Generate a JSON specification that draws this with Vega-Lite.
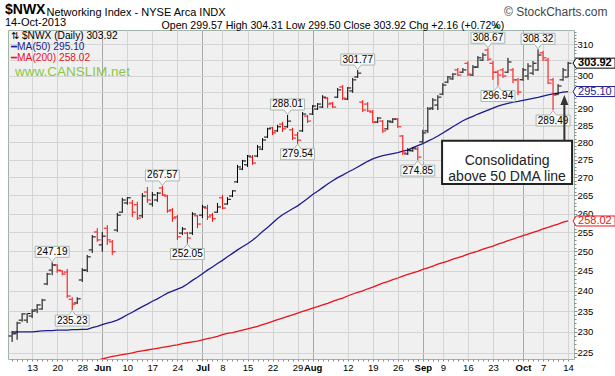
{
"$schema": "https://vega.github.io/schema/vega-lite/v6.json",
"width": 566, "height": 329, "autosize": "none",
"padding": {"left": 8, "top": 30, "right": 41, "bottom": 17},
"background": "white",
"title": {"text": "$NWX", "subtitle": "14-Oct-2013", "anchor": "start", "frame": "group", "dx": -3, "dy": 25, "offset": 2, "font": "Liberation Sans", "fontSize": 14, "fontWeight": "bold", "color": "#000", "subtitleFont": "Liberation Sans", "subtitleFontSize": 11, "subtitleColor": "#000", "subtitlePadding": 0},
"config": {"view": {"fill": "#f0f0f0", "stroke": "#a0b4aa", "strokeWidth": 1}, "axis": {"labelFont": "Liberation Sans", "titleFont": "Liberation Sans", "zindex": 0}, "text": {"font": "Liberation Sans"}},
"datasets": {
"bars": [
{"d":"2013-05-07","o":229.0,"h":230.2,"l":227.6,"c":229.5,"m50":230.0,"m200":219.7},
{"d":"2013-05-08","o":229.7,"h":232.4,"l":228.1,"c":232.1,"m50":230.0,"m200":219.9},
{"d":"2013-05-09","o":232.8,"h":234.5,"l":232.4,"c":234.3,"m50":230.0,"m200":220.1},
{"d":"2013-05-10","o":232.8,"h":234.5,"l":232.1,"c":234.4,"m50":230.0,"m200":220.3},
{"d":"2013-05-13","o":233.8,"h":235.5,"l":233.3,"c":235.0,"m50":230.0,"m200":220.5},
{"d":"2013-05-14","o":235.3,"h":236.7,"l":234.5,"c":236.5,"m50":230.1,"m200":220.7},
{"d":"2013-05-15","o":235.5,"h":238.0,"l":235.3,"c":237.7,"m50":230.2,"m200":220.9},
{"d":"2013-05-16","o":241.7,"h":244.5,"l":241.4,"c":244.2,"m50":230.3,"m200":221.1},
{"d":"2013-05-17","o":245.2,"h":247.19,"l":243.9,"c":246.5,"m50":230.3,"m200":221.3},
{"d":"2013-05-20","o":246.5,"h":246.7,"l":244.5,"c":245.2,"m50":230.4,"m200":221.5},
{"d":"2013-05-21","o":245.0,"h":245.2,"l":243.9,"c":244.2,"m50":230.4,"m200":221.7},
{"d":"2013-05-22","o":244.7,"h":245.5,"l":238.2,"c":238.7,"m50":230.4,"m200":222.0},
{"d":"2013-05-23","o":237.9,"h":238.4,"l":235.23,"c":236.7,"m50":230.5,"m200":222.2},
{"d":"2013-05-24","o":237.0,"h":238.4,"l":236.7,"c":238.0,"m50":230.5,"m200":222.4},
{"d":"2013-05-28","o":242.7,"h":245.7,"l":242.2,"c":245.2,"m50":230.6,"m200":222.6},
{"d":"2013-05-29","o":245.2,"h":249.1,"l":244.7,"c":248.6,"m50":230.6,"m200":222.8},
{"d":"2013-05-30","o":250.4,"h":254.3,"l":249.6,"c":253.8,"m50":231.0,"m200":223.0},
{"d":"2013-05-31","o":255.1,"h":256.1,"l":252.5,"c":253.0,"m50":231.3,"m200":223.3},
{"d":"2013-06-03","o":251.7,"h":255.1,"l":249.9,"c":254.0,"m50":231.7,"m200":223.6},
{"d":"2013-06-04","o":256.1,"h":256.9,"l":251.7,"c":253.0,"m50":232.1,"m200":223.9},
{"d":"2013-06-05","o":252.5,"h":253.0,"l":249.1,"c":249.9,"m50":232.4,"m200":224.2},
{"d":"2013-06-06","o":255.6,"h":260.2,"l":255.1,"c":259.6,"m50":232.8,"m200":224.4},
{"d":"2013-06-07","o":260.4,"h":264.3,"l":260.2,"c":263.7,"m50":233.4,"m200":224.6},
{"d":"2013-06-10","o":262.9,"h":264.5,"l":262.4,"c":264.3,"m50":234.1,"m200":224.8},
{"d":"2013-06-11","o":262.9,"h":263.7,"l":259.1,"c":260.4,"m50":234.7,"m200":225.0},
{"d":"2013-06-12","o":262.4,"h":263.2,"l":258.3,"c":258.8,"m50":235.4,"m200":225.3},
{"d":"2013-06-13","o":259.4,"h":265.6,"l":258.8,"c":264.8,"m50":236.1,"m200":225.5},
{"d":"2013-06-14","o":265.9,"h":267.3,"l":262.9,"c":263.7,"m50":236.7,"m200":225.7},
{"d":"2013-06-17","o":262.6,"h":265.9,"l":261.9,"c":265.1,"m50":237.4,"m200":225.9},
{"d":"2013-06-18","o":263.7,"h":265.9,"l":263.2,"c":265.6,"m50":238.0,"m200":226.1},
{"d":"2013-06-19","o":267.0,"h":267.57,"l":264.8,"c":265.1,"m50":238.7,"m200":226.3},
{"d":"2013-06-20","o":264.8,"h":265.1,"l":260.2,"c":260.7,"m50":239.4,"m200":226.5},
{"d":"2013-06-21","o":261.0,"h":261.5,"l":257.8,"c":258.8,"m50":239.9,"m200":226.7},
{"d":"2013-06-24","o":259.1,"h":259.6,"l":253.0,"c":253.8,"m50":240.4,"m200":226.9},
{"d":"2013-06-25","o":254.8,"h":256.4,"l":254.3,"c":255.9,"m50":240.9,"m200":227.2},
{"d":"2013-06-26","o":254.8,"h":255.1,"l":252.05,"c":253.5,"m50":241.7,"m200":227.4},
{"d":"2013-06-27","o":254.8,"h":260.4,"l":254.3,"c":259.9,"m50":242.6,"m200":227.6},
{"d":"2013-06-28","o":259.4,"h":259.6,"l":256.1,"c":257.2,"m50":243.4,"m200":227.8},
{"d":"2013-07-01","o":259.6,"h":262.4,"l":258.8,"c":261.8,"m50":244.3,"m200":228.1},
{"d":"2013-07-02","o":261.5,"h":262.4,"l":258.3,"c":259.1,"m50":245.2,"m200":228.4},
{"d":"2013-07-03","o":259.6,"h":260.2,"l":257.8,"c":258.6,"m50":246.0,"m200":228.6},
{"d":"2013-07-05","o":260.4,"h":262.9,"l":260.2,"c":261.8,"m50":246.9,"m200":228.9},
{"d":"2013-07-08","o":264.3,"h":265.1,"l":261.2,"c":261.5,"m50":247.7,"m200":229.3},
{"d":"2013-07-09","o":262.6,"h":264.5,"l":262.4,"c":263.9,"m50":248.6,"m200":229.6},
{"d":"2013-07-10","o":264.8,"h":266.4,"l":264.5,"c":266.2,"m50":249.5,"m200":229.8},
{"d":"2013-07-11","o":268.7,"h":273.5,"l":268.4,"c":272.9,"m50":250.4,"m200":230.1},
{"d":"2013-07-12","o":272.3,"h":274.9,"l":272.0,"c":274.6,"m50":251.2,"m200":230.4},
{"d":"2013-07-15","o":273.5,"h":276.3,"l":272.9,"c":276.0,"m50":252.0,"m200":230.7},
{"d":"2013-07-16","o":275.7,"h":276.3,"l":273.5,"c":274.0,"m50":252.9,"m200":231.0},
{"d":"2013-07-17","o":276.0,"h":279.2,"l":275.7,"c":278.6,"m50":254.0,"m200":231.3},
{"d":"2013-07-18","o":278.0,"h":281.2,"l":277.7,"c":280.6,"m50":255.2,"m200":231.7},
{"d":"2013-07-19","o":281.5,"h":284.2,"l":281.2,"c":283.9,"m50":256.3,"m200":232.1},
{"d":"2013-07-22","o":284.2,"h":284.5,"l":282.1,"c":282.7,"m50":257.5,"m200":232.5},
{"d":"2013-07-23","o":283.3,"h":285.1,"l":283.0,"c":284.5,"m50":258.7,"m200":232.9},
{"d":"2013-07-24","o":285.3,"h":286.0,"l":283.0,"c":283.9,"m50":259.7,"m200":233.3},
{"d":"2013-07-25","o":284.5,"h":288.01,"l":284.2,"c":286.2,"m50":260.5,"m200":233.7},
{"d":"2013-07-26","o":283.6,"h":284.2,"l":280.6,"c":281.2,"m50":261.3,"m200":234.1},
{"d":"2013-07-29","o":282.1,"h":283.0,"l":279.54,"c":280.6,"m50":262.1,"m200":234.5},
{"d":"2013-07-30","o":283.3,"h":288.9,"l":283.0,"c":288.3,"m50":263.1,"m200":234.9},
{"d":"2013-07-31","o":287.7,"h":288.0,"l":285.6,"c":286.2,"m50":264.1,"m200":235.3},
{"d":"2013-08-01","o":288.3,"h":291.0,"l":288.0,"c":290.7,"m50":265.2,"m200":235.7},
{"d":"2013-08-02","o":289.8,"h":291.6,"l":289.5,"c":291.3,"m50":266.1,"m200":236.1},
{"d":"2013-08-05","o":290.4,"h":294.0,"l":290.1,"c":293.4,"m50":267.1,"m200":236.5},
{"d":"2013-08-06","o":293.1,"h":293.4,"l":290.1,"c":291.3,"m50":268.1,"m200":236.9},
{"d":"2013-08-07","o":291.6,"h":291.9,"l":290.1,"c":290.4,"m50":269.0,"m200":237.4},
{"d":"2013-08-08","o":293.4,"h":296.2,"l":293.1,"c":295.6,"m50":269.9,"m200":237.8},
{"d":"2013-08-09","o":296.5,"h":297.1,"l":292.5,"c":293.1,"m50":270.6,"m200":238.2},
{"d":"2013-08-12","o":292.8,"h":296.5,"l":292.5,"c":296.2,"m50":271.4,"m200":238.7},
{"d":"2013-08-13","o":295.3,"h":299.3,"l":294.7,"c":298.7,"m50":272.1,"m200":239.2},
{"d":"2013-08-14","o":299.6,"h":301.77,"l":299.3,"c":300.8,"m50":272.9,"m200":239.6},
{"d":"2013-08-15","o":291.9,"h":292.5,"l":288.9,"c":289.5,"m50":273.7,"m200":240.0},
{"d":"2013-08-16","o":291.3,"h":291.9,"l":288.9,"c":289.2,"m50":274.5,"m200":240.5},
{"d":"2013-08-19","o":288.9,"h":289.5,"l":285.6,"c":285.9,"m50":275.2,"m200":240.9},
{"d":"2013-08-20","o":285.9,"h":287.4,"l":285.6,"c":287.1,"m50":275.7,"m200":241.4},
{"d":"2013-08-21","o":286.2,"h":286.5,"l":282.7,"c":283.3,"m50":276.1,"m200":241.9},
{"d":"2013-08-22","o":283.9,"h":286.5,"l":283.6,"c":286.2,"m50":276.4,"m200":242.3},
{"d":"2013-08-23","o":285.9,"h":287.1,"l":285.6,"c":286.8,"m50":276.7,"m200":242.8},
{"d":"2013-08-26","o":286.8,"h":287.1,"l":284.2,"c":284.5,"m50":277.0,"m200":243.2},
{"d":"2013-08-27","o":281.8,"h":282.1,"l":276.3,"c":276.9,"m50":277.4,"m200":243.7},
{"d":"2013-08-28","o":276.6,"h":278.3,"l":276.3,"c":277.7,"m50":277.7,"m200":244.1},
{"d":"2013-08-29","o":277.5,"h":278.6,"l":277.2,"c":278.3,"m50":278.4,"m200":244.5},
{"d":"2013-08-30","o":278.0,"h":278.6,"l":274.85,"c":275.7,"m50":279.0,"m200":244.9},
{"d":"2013-09-03","o":280.1,"h":283.6,"l":279.8,"c":282.7,"m50":279.6,"m200":245.4},
{"d":"2013-09-04","o":283.3,"h":290.4,"l":282.7,"c":289.8,"m50":280.3,"m200":245.8},
{"d":"2013-09-05","o":290.1,"h":293.1,"l":289.5,"c":292.5,"m50":281.0,"m200":246.2},
{"d":"2013-09-06","o":291.0,"h":294.0,"l":289.5,"c":293.4,"m50":281.8,"m200":246.7},
{"d":"2013-09-09","o":294.3,"h":297.7,"l":294.0,"c":297.1,"m50":282.7,"m200":247.1},
{"d":"2013-09-10","o":298.0,"h":299.9,"l":297.7,"c":299.6,"m50":283.6,"m200":247.5},
{"d":"2013-09-11","o":299.0,"h":300.8,"l":298.7,"c":300.5,"m50":284.5,"m200":248.0},
{"d":"2013-09-12","o":301.8,"h":302.4,"l":299.9,"c":300.2,"m50":285.4,"m200":248.4},
{"d":"2013-09-13","o":301.1,"h":302.4,"l":300.8,"c":301.8,"m50":286.3,"m200":248.8},
{"d":"2013-09-16","o":303.9,"h":304.5,"l":299.9,"c":300.5,"m50":287.0,"m200":249.3},
{"d":"2013-09-17","o":300.2,"h":303.3,"l":299.9,"c":302.7,"m50":287.6,"m200":249.7},
{"d":"2013-09-18","o":302.7,"h":306.2,"l":302.4,"c":305.6,"m50":288.3,"m200":250.1},
{"d":"2013-09-19","o":304.9,"h":307.2,"l":304.6,"c":306.5,"m50":288.9,"m200":250.6},
{"d":"2013-09-20","o":308.1,"h":308.67,"l":304.6,"c":305.2,"m50":289.5,"m200":251.0},
{"d":"2013-09-23","o":303.9,"h":304.6,"l":298.7,"c":301.1,"m50":290.1,"m200":251.4},
{"d":"2013-09-24","o":301.1,"h":301.8,"l":296.94,"c":300.2,"m50":290.7,"m200":251.9},
{"d":"2013-09-25","o":301.8,"h":302.4,"l":299.3,"c":299.9,"m50":291.1,"m200":252.3},
{"d":"2013-09-26","o":301.1,"h":305.6,"l":300.8,"c":304.3,"m50":291.5,"m200":252.8},
{"d":"2013-09-27","o":301.8,"h":302.4,"l":297.7,"c":298.7,"m50":291.9,"m200":253.2},
{"d":"2013-09-30","o":298.7,"h":299.3,"l":294.0,"c":295.0,"m50":292.1,"m200":253.7},
{"d":"2013-10-01","o":298.7,"h":302.4,"l":298.4,"c":301.8,"m50":292.4,"m200":254.1},
{"d":"2013-10-02","o":299.9,"h":303.9,"l":298.7,"c":303.0,"m50":292.7,"m200":254.5},
{"d":"2013-10-03","o":300.8,"h":304.6,"l":300.2,"c":303.9,"m50":293.0,"m200":255.0},
{"d":"2013-10-04","o":301.8,"h":308.32,"l":301.5,"c":306.5,"m50":293.3,"m200":255.4},
{"d":"2013-10-07","o":307.2,"h":307.8,"l":304.6,"c":305.6,"m50":293.7,"m200":255.9},
{"d":"2013-10-08","o":304.9,"h":305.6,"l":297.4,"c":297.7,"m50":294.1,"m200":256.3},
{"d":"2013-10-09","o":298.7,"h":299.3,"l":289.49,"c":294.0,"m50":294.4,"m200":256.8},
{"d":"2013-10-10","o":294.3,"h":297.4,"l":294.0,"c":296.8,"m50":294.6,"m200":257.2},
{"d":"2013-10-11","o":298.7,"h":302.4,"l":298.4,"c":301.76,"m50":294.9,"m200":257.7},
{"d":"2013-10-14","o":299.57,"h":304.31,"l":299.50,"c":303.92,"m50":295.10,"m200":258.02}
],
"labels": [
{"d":"2013-05-17","v":247.19,"t":"247.19","k":"hi"},
{"d":"2013-06-19","v":267.57,"t":"267.57","k":"hi"},
{"d":"2013-07-25","v":288.01,"t":"288.01","k":"hi"},
{"d":"2013-08-14","v":301.77,"t":"301.77","k":"hi"},
{"d":"2013-09-20","v":308.67,"t":"308.67","k":"hi"},
{"d":"2013-10-04","v":308.32,"t":"308.32","k":"hi"},
{"d":"2013-05-23","v":235.23,"t":"235.23","k":"lo"},
{"d":"2013-06-26","v":252.05,"t":"252.05","k":"lo"},
{"d":"2013-07-29","v":279.54,"t":"279.54","k":"lo"},
{"d":"2013-08-30","v":274.85,"t":"274.85","k":"lo"},
{"d":"2013-09-24","v":296.94,"t":"296.94","k":"lo"},
{"d":"2013-10-09","v":289.49,"t":"289.49","k":"lo"}
],
"keys": [
{"d":"2013-05-07","v":312.6,"t":"⇅ $NWX (Daily) 303.92","k":"price"},
{"d":"2013-05-07","v":309.2,"t":"━MA(50) 295.10","k":"ma50"},
{"d":"2013-05-07","v":305.6,"t":"━MA(200) 258.02","k":"ma200"},
{"d":"2013-05-07","v":301.2,"t":"www.CANSLIM.net","k":"web"}
],
"note": [{"d":"2013-10-11","v":294.05}],
"tags": [
{"d":"2013-10-14","v":303.92,"t":"303.92","k":"close"},
{"d":"2013-10-14","v":295.10,"t":"295.10","k":"ma50"},
{"d":"2013-10-14","v":258.02,"t":"258.02","k":"ma200"}
]
},
"layer": [
{"data": {"name": "bars"}, "mark": {"type": "line", "color": "#e8141c", "strokeWidth": 1.3, "clip": true},
 "encoding": {"x": {"field": "d", "type": "ordinal", "scale": {"type": "point", "padding": 1.1, "align": 0.409}, "axis": null},
  "y": {"field": "m200", "type": "quantitative", "scale": {"type": "log", "domain": [223.6, 314.56], "nice": false}, "axis": null}}},
{"data": {"name": "bars"}, "mark": {"type": "line", "color": "#1c1c8f", "strokeWidth": 1.3, "clip": true},
 "encoding": {"x": {"field": "d", "type": "ordinal", "scale": {"type": "point", "padding": 1.1, "align": 0.409},
   "axis": {"orient": "top", "labels": false, "ticks": false, "domain": false, "grid": false, "title": "Networking Index - NYSE Arca INDX", "titleX": 38, "titleY": -15, "titleAlign": "left", "titleAnchor": null, "titleBaseline": "alphabetic", "titleFontWeight": "normal", "titleFontSize": 11, "titleColor": "#000", "zindex": 0}},
  "y": {"field": "m50", "type": "quantitative", "scale": {"type": "log", "domain": [223.6, 314.56], "nice": false},
   "axis": {"orient": "left", "labels": false, "ticks": false, "domain": false, "grid": false, "title": "Open 299.57 High 304.31 Low 299.50 Close 303.92 Chg +2.16 (+0.72%)", "titleAngle": 0, "titleX": 153, "titleY": -2, "titleAlign": "left", "titleBaseline": "alphabetic", "titleFontWeight": "normal", "titleFontSize": 10.6, "titleColor": "#000", "zindex": 0}}}},
{"data": {"name": "bars"}, "transform": [{"window": [{"op": "lag", "field": "c", "as": "pc"}], "sort": [{"field": "d", "order": "ascending"}]}],
 "mark": {"type": "rule", "strokeWidth": 1},
 "encoding": {"x": {"field": "d", "type": "ordinal", "scale": {"type": "point", "padding": 1.1, "align": 0.409},
   "axis": {"orient": "bottom", "title": "▲", "titleColor": "#22aa22", "titleFontSize": 9, "titleX": 488, "titleY": -332, "titleAlign": "center", "titleBaseline": "alphabetic", "domain": false, "tickSize": 2, "tickColor": "#888", "labelAngle": 0, "labelOverlap": false, "labelFontSize": 9.5, "labelPadding": 1, "labelColor": "#000",
    "labelFontWeight": {"condition": {"test": "indexof(['2013-06-03','2013-07-01','2013-08-01','2013-09-03','2013-10-01'], datum.value) >= 0", "value": "bold"}, "value": "normal"},
    "labelExpr": "datum.value == '2013-06-03' ? 'Jun' : datum.value == '2013-07-01' ? 'Jul' : datum.value == '2013-08-01' ? 'Aug' : datum.value == '2013-09-03' ? 'Sep' : datum.value == '2013-10-01' ? 'Oct' : indexof(['2013-05-13','2013-05-20','2013-05-28','2013-06-10','2013-06-17','2013-06-24','2013-07-08','2013-07-15','2013-07-22','2013-07-29','2013-08-12','2013-08-19','2013-08-26','2013-09-09','2013-09-16','2013-09-23','2013-10-07','2013-10-14'], datum.value) >= 0 ? '' + toNumber(substring(datum.value, 8, 10)) : ''",
    "grid": true,
    "gridColor": {"condition": {"test": "indexof(['2013-06-03','2013-07-01','2013-08-01','2013-09-03','2013-10-01'], datum.value) >= 0", "value": "#a8a8a8"}, "value": "#d4d4d4"},
    "gridOpacity": {"condition": {"test": "indexof(['2013-05-13','2013-05-20','2013-05-28','2013-06-03','2013-06-10','2013-06-17','2013-06-24','2013-07-01','2013-07-08','2013-07-15','2013-07-22','2013-07-29','2013-08-01','2013-08-12','2013-08-19','2013-08-26','2013-09-03','2013-09-09','2013-09-16','2013-09-23','2013-10-01','2013-10-07','2013-10-14'], datum.value) >= 0", "value": 1}, "value": 0},
    "zindex": 0}},
  "y": {"field": "l", "type": "quantitative", "scale": {"type": "log", "domain": [223.6, 314.56], "nice": false},
   "axis": {"orient": "right", "title": "© StockCharts.com", "titleAngle": 0, "titleX": 33, "titleY": -15, "titleAlign": "right", "titleBaseline": "alphabetic", "titleFontWeight": "normal", "titleFontSize": 12, "titleColor": "#444",
    "values": [224,225,226,227,228,229,230,231,232,233,234,235,236,237,238,239,240,241,242,243,244,245,246,247,248,249,250,251,252,253,254,255,256,257,258,259,260,261,262,263,264,265,266,267,268,269,270,271,272,273,274,275,276,277,278,279,280,281,282,283,284,285,286,287,288,289,290,291,292,293,294,295,296,297,298,299,300,301,302,303,304,305,306,307,308,309,310,311,312,313,314],
    "labelExpr": "datum.value % 5 == 0 && datum.value != 295 && datum.value != 305 ? '' + datum.value : ''", "labelOverlap": false, "labelFontSize": 9.5, "labelPadding": 0, "labelColor": "#000", "domain": false,
    "tickColor": "#888", "tickSize": {"condition": {"test": "datum.value % 5 == 0", "value": 3}, "value": 2},
    "grid": true, "gridColor": "#d4d4d4", "gridOpacity": {"condition": {"test": "datum.value % 5 == 0", "value": 1}, "value": 0}, "zindex": 0}},
  "y2": {"field": "h"},
  "color": {"condition": {"test": "datum.pc != null && datum.c < datum.pc", "value": "#ff0000"}, "value": "#000000"}}},
{"data": {"name": "bars"}, "transform": [{"window": [{"op": "lag", "field": "c", "as": "pc"}], "sort": [{"field": "d", "order": "ascending"}]}],
 "mark": {"type": "tick", "size": 3, "thickness": 1, "xOffset": -2, "opacity": 1},
 "encoding": {"x": {"field": "d", "type": "ordinal", "scale": {"type": "point", "padding": 1.1, "align": 0.409}, "axis": null},
  "y": {"field": "o", "type": "quantitative", "scale": {"type": "log", "domain": [223.6, 314.56], "nice": false}, "axis": null},
  "color": {"condition": {"test": "datum.pc != null && datum.c < datum.pc", "value": "#ff0000"}, "value": "#000000"}}},
{"data": {"name": "bars"}, "transform": [{"window": [{"op": "lag", "field": "c", "as": "pc"}], "sort": [{"field": "d", "order": "ascending"}]}],
 "mark": {"type": "tick", "size": 3, "thickness": 1, "xOffset": 2, "opacity": 1},
 "encoding": {"x": {"field": "d", "type": "ordinal", "scale": {"type": "point", "padding": 1.1, "align": 0.409}, "axis": null},
  "y": {"field": "c", "type": "quantitative", "scale": {"type": "log", "domain": [223.6, 314.56], "nice": false}, "axis": null},
  "color": {"condition": {"test": "datum.pc != null && datum.c < datum.pc", "value": "#ff0000"}, "value": "#000000"}}},
{"data": {"name": "labels"}, "transform": [{"filter": "datum.k == 'hi'"}],
 "mark": {"type": "point", "shape": "M0,-0.03L0.22,-0.31H1.06V-1H-1.06V-0.31H-0.22Z", "size": 1024, "filled": true, "fill": "#f8f8f8", "stroke": "#a9b8b0", "strokeWidth": 1, "opacity": 1},
 "encoding": {"x": {"field": "d", "type": "ordinal", "scale": {"type": "point", "padding": 1.1, "align": 0.409}, "axis": null},
  "y": {"field": "v", "type": "quantitative", "scale": {"type": "log", "domain": [223.6, 314.56], "nice": false}, "axis": null}}},
{"data": {"name": "labels"}, "transform": [{"filter": "datum.k == 'lo'"}],
 "mark": {"type": "point", "shape": "M0,0.03L0.22,0.31H1.06V1H-1.06V0.31H-0.22Z", "size": 1024, "filled": true, "fill": "#f8f8f8", "stroke": "#a9b8b0", "strokeWidth": 1, "opacity": 1},
 "encoding": {"x": {"field": "d", "type": "ordinal", "scale": {"type": "point", "padding": 1.1, "align": 0.409}, "axis": null},
  "y": {"field": "v", "type": "quantitative", "scale": {"type": "log", "domain": [223.6, 314.56], "nice": false}, "axis": null}}},
{"data": {"name": "labels"}, "transform": [{"filter": "datum.k == 'hi'"}],
 "mark": {"type": "text", "dy": -10.5, "baseline": "middle", "align": "center", "fontSize": 10, "color": "#000"},
 "encoding": {"x": {"field": "d", "type": "ordinal", "scale": {"type": "point", "padding": 1.1, "align": 0.409}, "axis": null},
  "y": {"field": "v", "type": "quantitative", "scale": {"type": "log", "domain": [223.6, 314.56], "nice": false}, "axis": null},
  "text": {"field": "t"}}},
{"data": {"name": "labels"}, "transform": [{"filter": "datum.k == 'lo'"}],
 "mark": {"type": "text", "dy": 10.5, "baseline": "middle", "align": "center", "fontSize": 10, "color": "#000"},
 "encoding": {"x": {"field": "d", "type": "ordinal", "scale": {"type": "point", "padding": 1.1, "align": 0.409}, "axis": null},
  "y": {"field": "v", "type": "quantitative", "scale": {"type": "log", "domain": [223.6, 314.56], "nice": false}, "axis": null},
  "text": {"field": "t"}}},
{"data": {"name": "keys"}, "transform": [{"filter": "datum.k != 'web'"}],
 "mark": {"type": "text", "dx": -1, "baseline": "middle", "align": "left", "fontSize": 10.2},
 "encoding": {"x": {"field": "d", "type": "ordinal", "scale": {"type": "point", "padding": 1.1, "align": 0.409}, "axis": null},
  "y": {"field": "v", "type": "quantitative", "scale": {"type": "log", "domain": [223.6, 314.56], "nice": false}, "axis": null},
  "text": {"field": "t"},
  "color": {"field": "k", "type": "nominal", "scale": {"domain": ["price", "ma50", "ma200"], "range": ["#000000", "#1c1c8f", "#e8141c"]}, "legend": null}}},
{"data": {"name": "keys"}, "transform": [{"filter": "datum.k == 'web'"}],
 "mark": {"type": "text", "dx": 3, "baseline": "middle", "align": "left", "fontSize": 13.5, "color": "#8dc63f"},
 "encoding": {"x": {"field": "d", "type": "ordinal", "scale": {"type": "point", "padding": 1.1, "align": 0.409}, "axis": null},
  "y": {"field": "v", "type": "quantitative", "scale": {"type": "log", "domain": [223.6, 314.56], "nice": false}, "axis": null},
  "text": {"field": "t"}}},
{"data": {"name": "note"},
 "mark": {"type": "point", "shape": "M-1.21,0.457H0.09V0.89H-1.21Z", "size": 40000, "filled": true, "fill": "#ffffff", "stroke": "#222222", "strokeWidth": 2, "opacity": 1},
 "encoding": {"x": {"field": "d", "type": "ordinal", "scale": {"type": "point", "padding": 1.1, "align": 0.409}, "axis": null},
  "y": {"field": "v", "type": "quantitative", "scale": {"type": "log", "domain": [223.6, 314.56], "nice": false}, "axis": null}}},
{"data": {"name": "note"},
 "mark": {"type": "point", "shape": "M0.013,0L0.053,0.1H0.023V0.457H0.003V0.1H-0.027Z", "size": 40000, "filled": true, "fill": "#333333", "strokeWidth": 0, "opacity": 1},
 "encoding": {"x": {"field": "d", "type": "ordinal", "scale": {"type": "point", "padding": 1.1, "align": 0.409}, "axis": null},
  "y": {"field": "v", "type": "quantitative", "scale": {"type": "log", "domain": [223.6, 314.56], "nice": false}, "axis": null}}},
{"data": {"name": "note"},
 "mark": {"type": "text", "text": ["Consolidating", "above 50 DMA line"], "dx": -56, "dy": 66, "baseline": "middle", "align": "center", "fontSize": 14, "lineHeight": 16, "color": "#222222"},
 "encoding": {"x": {"field": "d", "type": "ordinal", "scale": {"type": "point", "padding": 1.1, "align": 0.409}, "axis": null},
  "y": {"field": "v", "type": "quantitative", "scale": {"type": "log", "domain": [223.6, 314.56], "nice": false}, "axis": null}}},
{"data": {"name": "tags"},
 "mark": {"type": "point", "shape": "M0.2,0L0.32,-0.2H1.88V0.2H0.32Z", "size": 2500, "filled": true, "fill": "#ffffff", "strokeWidth": 1, "opacity": 1},
 "encoding": {"x": {"field": "d", "type": "ordinal", "scale": {"type": "point", "padding": 1.1, "align": 0.409}, "axis": null},
  "y": {"field": "v", "type": "quantitative", "scale": {"type": "log", "domain": [223.6, 314.56], "nice": false}, "axis": null},
  "stroke": {"field": "k", "type": "nominal", "scale": {"domain": ["close", "ma50", "ma200"], "range": ["#000000", "#1c1c8f", "#e8141c"]}, "legend": null}}},
{"data": {"name": "tags"}, "transform": [{"filter": "datum.k == 'close'"}],
 "mark": {"type": "text", "dx": 10, "baseline": "middle", "align": "left", "fontSize": 11, "fontWeight": "bold", "color": "#000"},
 "encoding": {"x": {"field": "d", "type": "ordinal", "scale": {"type": "point", "padding": 1.1, "align": 0.409}, "axis": null},
  "y": {"field": "v", "type": "quantitative", "scale": {"type": "log", "domain": [223.6, 314.56], "nice": false}, "axis": null},
  "text": {"field": "t"}}},
{"data": {"name": "tags"}, "transform": [{"filter": "datum.k != 'close'"}],
 "mark": {"type": "text", "dx": 10, "baseline": "middle", "align": "left", "fontSize": 11},
 "encoding": {"x": {"field": "d", "type": "ordinal", "scale": {"type": "point", "padding": 1.1, "align": 0.409}, "axis": null},
  "y": {"field": "v", "type": "quantitative", "scale": {"type": "log", "domain": [223.6, 314.56], "nice": false}, "axis": null},
  "text": {"field": "t"},
  "color": {"field": "k", "type": "nominal", "scale": {"domain": ["close", "ma50", "ma200"], "range": ["#000000", "#1c1c8f", "#e8141c"]}, "legend": null}}}
],
"resolve": {"axis": {"x": "independent", "y": "independent"}}
}
